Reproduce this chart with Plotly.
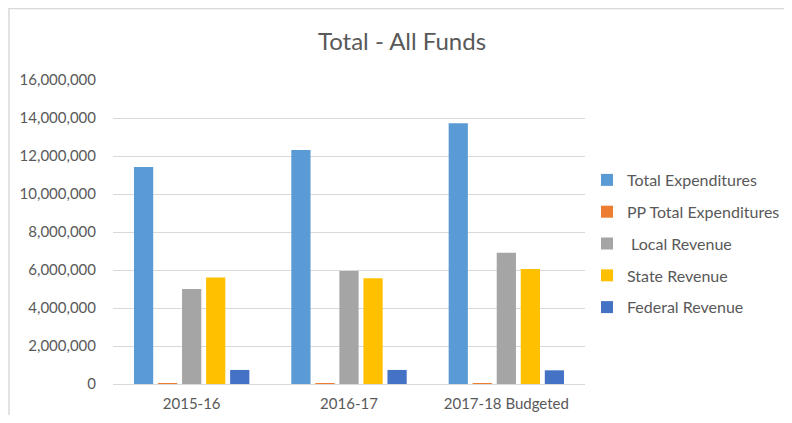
import plotly.graph_objects as go

years = ["2015-16", "2016-17", "2017-18 Budgeted"]
total_exp = [11420000, 12320000, 13720000]
pp_total_exp = [11800, 12400, 13100]
local_rev = [5000000, 5950000, 6910000]
state_rev = [5610000, 5560000, 6050000]
federal_rev = [740000, 740000, 720000]

series = [
    ("Total Expenditures", total_exp, "#5b9bd5"),
    ("PP Total Expenditures", pp_total_exp, "#ed7d31"),
    (" Local Revenue", local_rev, "#a5a5a5"),
    ("State Revenue", state_rev, "#ffc000"),
    ("Federal Revenue", federal_rev, "#4472c4"),
]

# page body has an 8px margin, so the figure starts at (8, 8)
OFF = 8
W, H = 776, 407
plot_l, plot_r, plot_t, plot_b = 113 - OFF, 585 - OFF, 80 - OFF, 384 - OFF
L, R, T, B = plot_l, W - plot_r, plot_t, H - plot_b
pw, ph = plot_r - plot_l, plot_b - plot_t

fig = go.Figure()
for i, (name, vals, color) in enumerate(series):
    fig.add_trace(go.Bar(x=years, y=vals, name=name, marker_color=color,
                         marker_line_width=0, legendgroup=str(i)))

fig.update_layout(
    width=W, height=H,
    margin=dict(l=L, r=R, t=T, b=B),
    paper_bgcolor="white", plot_bgcolor="white",
    font=dict(family="Lato, Noto Sans, sans-serif", color="#595959", size=15),
    title=dict(text="Total - All Funds", x=(402 - OFF) / W, xanchor="center",
               y=1 - (42 - OFF) / H, yanchor="middle", font=dict(size=24, color="#595959")),
    barmode="group", bargap=0.236, bargroupgap=0.2,
    showlegend=True,
    legend=dict(xref="container", yref="container",
                x=(587 - OFF) / W, xanchor="left", y=1 - (163 - OFF) / H, yanchor="top",
                font=dict(size=16, color="#595959"), tracegroupgap=8,
                itemwidth=30, bgcolor="rgba(0,0,0,0)"),
    yaxis=dict(range=[0, 16000000], dtick=2000000, tickformat=",d",
               gridcolor="#d9d9d9", gridwidth=1, zeroline=False, automargin=False,
               ticks="", tickfont=dict(size=15, color="#595959"), ticklabelstandoff=16),
    xaxis=dict(showline=True, linecolor="#d9d9d9", linewidth=1, ticks="",
               automargin=False, ticklabelstandoff=6,
               layer="above traces", tickfont=dict(size=15, color="#595959")),
)

# chart border (Excel frame): top and left edges
fig.add_shape(type="rect", xref="paper", yref="paper",
              x0=(1.0 - plot_l) / pw, x1=2.0, y0=-0.5, y1=(plot_b - 0.5) / ph,
              line=dict(color="#d9d9d9", width=1.5), fillcolor="rgba(0,0,0,0)", layer="below")

fig.write_html("out.html")
